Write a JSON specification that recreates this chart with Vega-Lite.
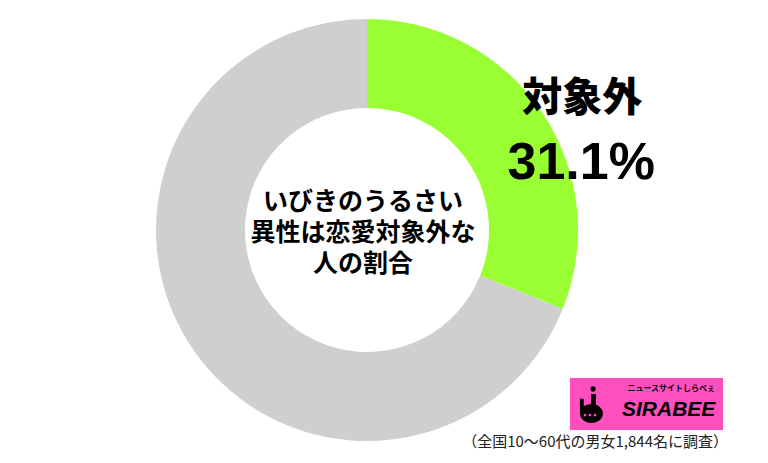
{
  "$schema": "https://vega.github.io/schema/vega-lite/v6.json",
  "width": 734,
  "height": 460,
  "autosize": "none",
  "padding": {"left": 0, "top": 0, "right": 34, "bottom": 3},
  "background": "white",
  "view": {"stroke": null},
  "title": {
    "text": "（全国10〜60代の男女1,844名に調査）",
    "orient": "bottom",
    "anchor": "end",
    "offset": -25,
    "dx": -6,
    "fontSize": 15,
    "font": "Noto Sans CJK JP",
    "fontWeight": "normal",
    "color": "#222222"
  },
  "layer": [
    {
      "data": {"values": [
        {"category": "対象外", "value": 31.1},
        {"category": "その他", "value": 68.9}
      ]},
      "encoding": {
        "theta": {"field": "value", "type": "quantitative", "stack": true},
        "order": {"field": "value", "type": "quantitative", "sort": "ascending"},
        "detail": {"field": "category", "type": "nominal"}
      },
      "layer": [
        {
          "mark": {"type": "arc", "outerRadius": 211, "innerRadius": 122, "strokeWidth": 0},
          "encoding": {
            "color": {
              "field": "category",
              "type": "nominal",
              "scale": {"domain": ["対象外", "その他"], "range": ["#99ff33", "#d0cfcf"]},
              "legend": null
            }
          }
        },
        {
          "transform": [{"filter": "datum.category === '対象外'"}],
          "mark": {"type": "text", "radius": 250, "dx": 8, "dy": 9, "font": "Noto Sans CJK JP", "fontSize": 40, "fontWeight": 900, "color": "black", "align": "center", "baseline": "middle"},
          "encoding": {"text": {"field": "category", "type": "nominal"}}
        },
        {
          "transform": [
            {"filter": "datum.category === '対象外'"},
            {"calculate": "format(datum.value, '.1f') + '%'", "as": "pct"}
          ],
          "mark": {"type": "text", "radius": 250, "dx": 7, "dy": 73, "font": "Liberation Sans", "fontSize": 52, "fontWeight": "bold", "color": "black", "align": "center", "baseline": "middle"},
          "encoding": {"text": {"field": "pct", "type": "nominal"}}
        }
      ]
    },
    {
      "data": {"values": [{"t": "いびきのうるさい\n異性は恋愛対象外な\n人の割合"}]},
      "mark": {"type": "text", "dx": -4, "dy": -28, "font": "Noto Sans CJK JP", "fontSize": 25, "fontWeight": "bold", "color": "black", "lineBreak": "\n", "lineHeight": 31, "align": "center", "baseline": "middle"},
      "encoding": {"text": {"field": "t", "type": "nominal"}}
    },
    {
      "data": {"values": [{"brand": "SIRABEE"}]},
      "mark": {"type": "point", "filled": true, "color": "black", "opacity": 0},
      "encoding": {
        "shape": {
          "field": "brand",
          "type": "nominal",
          "scale": {"range": ["M-0.01,-1.52 a0.2,0.2 0 1 1 0.4,0 a0.2,0.2 0 1 1 -0.4,0 Z M0.04,-1.15 L0.41,-1.15 L0.41,-0.2 L0.04,-0.2 Z M-0.78,0.3 a0.85,0.7 0 1 1 1.7,0 a0.85,0.7 0 1 1 -1.7,0 Z M-0.78,-0.8 L-0.5,-0.8 L-0.5,0.3 L-0.78,0.3 Z M-0.51,0.41 a0.1,0.1 0 1 0 0.2,0 a0.1,0.1 0 1 0 -0.2,0 Z M-0.14,0.41 a0.1,0.1 0 1 0 0.2,0 a0.1,0.1 0 1 0 -0.2,0 Z M0.23,0.41 a0.1,0.1 0 1 0 0.2,0 a0.1,0.1 0 1 0 -0.2,0 Z"]},
          "legend": {
            "orient": "none",
            "legendX": 570,
            "legendY": 378,
            "fillColor": "#fe4fbf",
            "padding": 7,
            "title": "ニュースサイトしらべぇ",
            "titleFont": "Noto Sans CJK JP",
            "titleFontSize": 8,
            "titleFontWeight": "bold",
            "titleColor": "black",
            "titleAnchor": "end",
            "titlePadding": 3,
            "labelFont": "Liberation Sans",
            "labelFontSize": 21,
            "labelFontWeight": "bold",
            "labelFontStyle": "italic",
            "labelColor": "black",
            "labelOffset": 18,
            "symbolSize": 729,
            "symbolFillColor": "black",
            "symbolStrokeWidth": 0,
            "symbolOpacity": 1
          }
        }
      }
    }
  ]
}
